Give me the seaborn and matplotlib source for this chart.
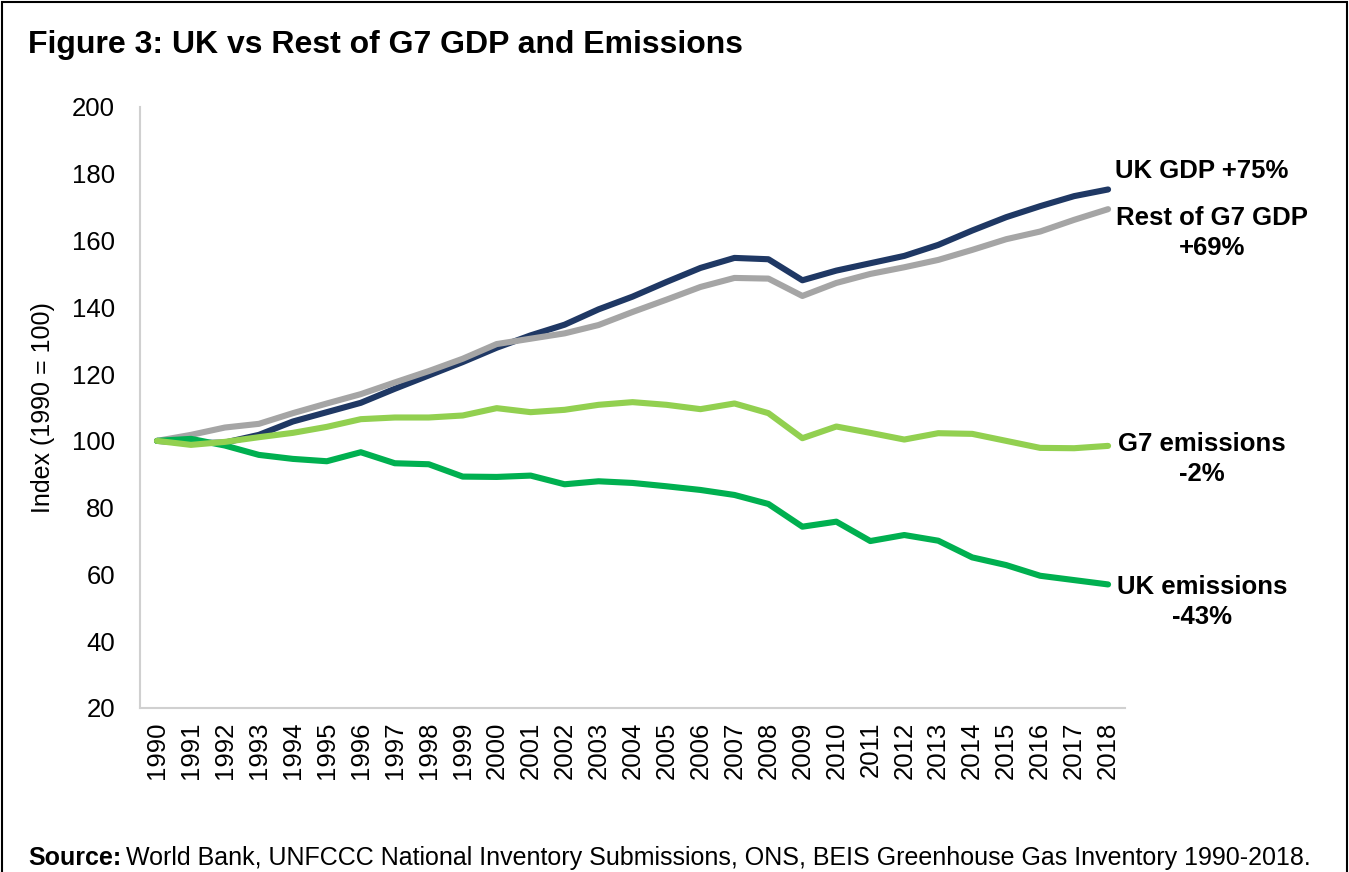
import matplotlib
matplotlib.use("Agg")
import matplotlib.pyplot as plt
import seaborn as sns
import pandas as pd
from matplotlib.patches import Rectangle

# data (index, 1990 = 100)
years = list(range(1990, 2019))
uk_gdp = [100, 99.3, 99.5, 101.8, 105.8, 108.6, 111.4, 115.6, 119.6, 123.6, 127.9,
          131.6, 134.8, 139.4, 143.2, 147.6, 151.8, 154.8, 154.4, 148.1, 151.0,
          153.2, 155.4, 158.7, 163.0, 167.0, 170.3, 173.3, 175.3]
g7_gdp = [100, 101.8, 104.0, 105.1, 108.3, 111.2, 114.0, 117.5, 120.9, 124.6, 129.0,
          130.6, 132.2, 134.7, 138.6, 142.3, 146.1, 148.8, 148.6, 143.4, 147.3,
          150.0, 152.0, 154.2, 157.2, 160.4, 162.7, 166.2, 169.4]
uk_emis = [100, 100.6, 98.6, 95.8, 94.6, 93.9, 96.6, 93.3, 93.0, 89.3, 89.2,
           89.6, 87.0, 87.9, 87.4, 86.4, 85.3, 83.8, 81.1, 74.3, 75.8,
           70.0, 71.8, 70.1, 65.1, 62.8, 59.6, 58.3, 57.0]
g7_emis = [100, 98.8, 99.7, 101.1, 102.4, 104.2, 106.5, 107.0, 107.0, 107.6, 109.8,
           108.6, 109.3, 110.8, 111.6, 110.8, 109.5, 111.2, 108.3, 100.8, 104.3,
           102.4, 100.4, 102.3, 102.1, 100.0, 97.9, 97.8, 98.5]

series_names = ["UK GDP", "Rest of G7 GDP", "UK emissions", "G7 emissions"]
series_labels = ["UK GDP +75%", "Rest of G7 GDP\n+69%", "UK emissions\n-43%", "G7 emissions\n-2%"]
colors = ["#1F3864", "#A5A5A5", "#00B050", "#92D050"]

df = pd.DataFrame({
    "year": years * 4,
    "value": uk_gdp + g7_gdp + uk_emis + g7_emis,
    "series": [n for n in series_names for _ in years],
})

sns.set_style("white")
plt.rcParams["font.family"] = ["Liberation Sans", "DejaVu Sans"]
plt.rcParams["text.color"] = "black"
plt.rcParams["axes.labelcolor"] = "black"
plt.rcParams["xtick.color"] = "black"
plt.rcParams["ytick.color"] = "black"

fig = plt.figure(figsize=(13.49, 8.72), dpi=100)
ax = fig.add_axes([0.1038, 0.1881, 0.7302, 0.6892])

sns.lineplot(data=df, x="year", y="value", hue="series", hue_order=series_names,
             palette=colors, linewidth=4.4, legend=False, ax=ax,
             solid_capstyle="round", solid_joinstyle="round")

ax.set_xlim(1989.5, 2018.5)
ax.set_ylim(20, 200)
ax.set_yticks(range(20, 201, 20))
ax.set_xticks(years)
ax.set_xticklabels([str(y) for y in years], rotation=90)
ax.tick_params(axis="both", labelsize=18.5, length=0)
ax.tick_params(axis="y", pad=18)
ax.tick_params(axis="x", pad=10)
ax.set_xlabel("")
ax.set_ylabel("Index (1990 = 100)", fontsize=18, labelpad=12)

for side in ["top", "right"]:
    ax.spines[side].set_visible(False)
for side in ["left", "bottom"]:
    ax.spines[side].set_color("#D0D0D0")
    ax.spines[side].set_linewidth(1.5)

# end-of-line labels (positions in figure pixels, measured from the top)
H = 872
lab_kw = dict(transform=None, fontsize=18.5, fontweight="bold",
              va="center", linespacing=1.35)
ax.text(1115, H - 171, series_labels[0], ha="left", **lab_kw)
ax.text(1212, H - 233, series_labels[1], ha="center", **lab_kw)
ax.text(1202, H - 459, series_labels[3], ha="center", **lab_kw)
ax.text(1202, H - 602, series_labels[2], ha="center", **lab_kw)

fig.text(28 / 1349, 1 - 45 / H, "Figure 3: UK vs Rest of G7 GDP and Emissions",
         fontsize=23, fontweight="bold", ha="left", va="center")
fig.text(28 / 1349, 1 - 858 / H, "Source:", fontsize=18, fontweight="bold",
         ha="left", va="center")
fig.text(126 / 1349, 1 - 858 / H,
         "World Bank, UNFCCC National Inventory Submissions, ONS, BEIS Greenhouse Gas Inventory 1990-2018.",
         fontsize=18, ha="left", va="center")

fig.patches.append(Rectangle((2 / 1349, -0.01), 1 - 4 / 1349, 1 - 2 / H + 0.01,
                             transform=fig.transFigure, fill=False,
                             edgecolor="black", linewidth=1.5))

fig.savefig("out.png", dpi=100)
